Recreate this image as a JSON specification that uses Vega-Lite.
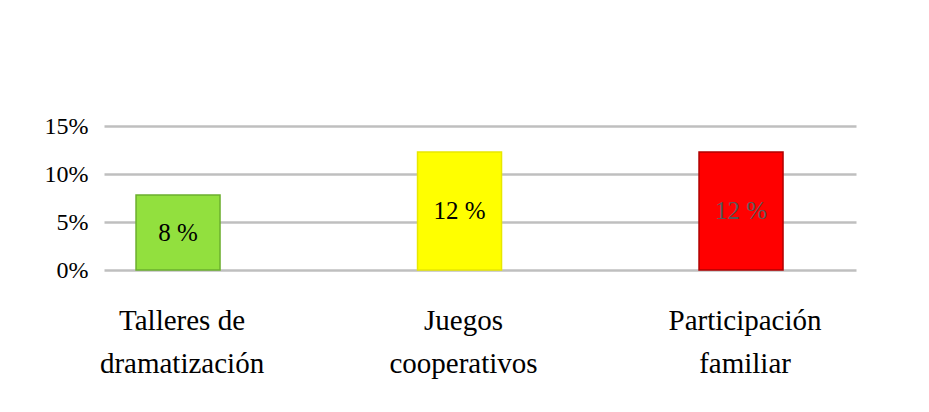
{
  "$schema": "https://vega.github.io/schema/vega-lite/v6.json",
  "width": 752,
  "height": 144,
  "autosize": "none",
  "padding": {"left": 104, "top": 126, "right": 73, "bottom": 142},
  "background": "white",
  "config": {"view": {"stroke": null}, "font": "'Liberation Serif', 'Times New Roman', serif"},
  "data": {
    "values": [
      {"categoria": "Talleres de dramatización", "valor": 7.8, "etiqueta": "8 %"},
      {"categoria": "Juegos cooperativos", "valor": 12.3, "etiqueta": "12 %"},
      {"categoria": "Participación familiar", "valor": 12.3, "etiqueta": "12 %"}
    ]
  },
  "encoding": {
    "x": {
      "field": "categoria",
      "type": "nominal",
      "sort": null,
      "scale": {"paddingInner": 0.7016, "paddingOuter": 0.1865, "align": 0.305},
      "axis": {
        "title": null,
        "domain": false,
        "ticks": false,
        "labelAngle": 0,
        "labelFont": "'Liberation Serif', 'Times New Roman', serif",
        "labelFontSize": 29,
        "labelLineHeight": 43,
        "labelPadding": 36,
        "labelBaseline": "top",
        "labelOffset": 4,
        "labelColor": "#000000",
        "labelExpr": "datum.label == 'Talleres de dramatización' ? ['Talleres de', 'dramatización'] : datum.label == 'Juegos cooperativos' ? ['Juegos', 'cooperativos'] : ['Participación', 'familiar']"
      }
    }
  },
  "layer": [
    {
      "mark": {"type": "bar", "strokeWidth": 1.5},
      "encoding": {
        "y": {
          "field": "valor",
          "type": "quantitative",
          "scale": {"domain": [0, 15], "nice": false, "zero": true},
          "axis": {
            "title": null,
            "values": [0, 5, 10, 15],
            "labelExpr": "datum.value + '%'",
            "domain": false,
            "ticks": false,
            "labelFont": "'Liberation Serif', 'Times New Roman', serif",
            "labelFontSize": 24,
            "labelPadding": 16,
            "labelColor": "#000000",
            "gridColor": "#BFBFBF",
            "gridWidth": 2.5
          }
        },
        "fill": {
          "field": "categoria",
          "type": "nominal",
          "scale": {
            "domain": ["Talleres de dramatización", "Juegos cooperativos", "Participación familiar"],
            "range": ["#92E03E", "#FFFF00", "#FF0000"]
          },
          "legend": null
        },
        "stroke": {
          "field": "categoria",
          "type": "nominal",
          "scale": {
            "domain": ["Talleres de dramatización", "Juegos cooperativos", "Participación familiar"],
            "range": ["#6BAE2E", "#E8E800", "#B00000"]
          },
          "legend": null
        }
      }
    },
    {
      "transform": [{"calculate": "datum.valor / 2", "as": "medio"}],
      "mark": {"type": "text", "font": "'Liberation Serif', 'Times New Roman', serif", "fontSize": 25, "baseline": "middle", "align": "center"},
      "encoding": {
        "y": {"field": "medio", "type": "quantitative", "scale": {"domain": [0, 15], "nice": false, "zero": true}},
        "text": {"field": "etiqueta"},
        "color": {
          "condition": {"test": "datum.categoria == 'Participación familiar'", "value": "#595959"},
          "value": "#000000"
        }
      }
    }
  ]
}
